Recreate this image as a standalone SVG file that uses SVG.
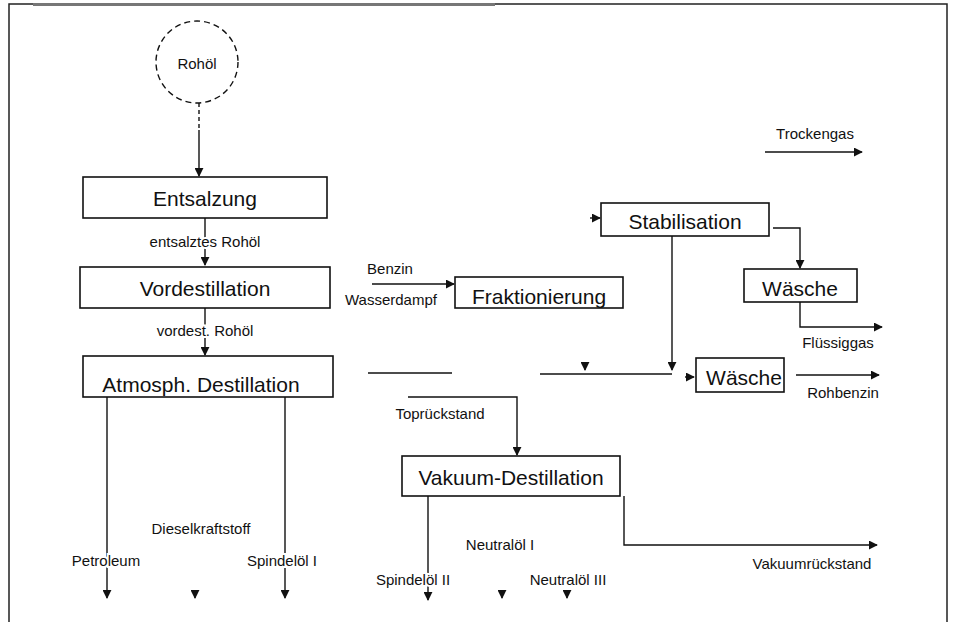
<svg xmlns="http://www.w3.org/2000/svg" width="957" height="622" viewBox="0 0 957 622">
<style>
.box{fill:#fff;stroke:#111;stroke-width:1.6}
.t{font-family:"Liberation Sans",Arial,sans-serif;font-size:21px;fill:#111;text-anchor:middle;dominant-baseline:central}
.l{font-family:"Liberation Sans",Arial,sans-serif;font-size:15px;fill:#111;text-anchor:middle;dominant-baseline:central}
.c{fill:none;stroke:#111;stroke-width:1.4}
.h{paint-order:stroke;stroke:#fff;stroke-width:4}
</style>
<defs>
<marker id="ah" viewBox="0 0 10 10" refX="9" refY="5" markerWidth="9" markerHeight="9" markerUnits="userSpaceOnUse" orient="auto">
<path d="M0,0 L10,5 L0,10 z" fill="#111"/>
</marker>
</defs>
<rect width="957" height="622" fill="#fff"/>
<g id="frame">
<path d="M9,622 V4 H947 V622" fill="none" stroke="#222" stroke-width="1.5"/>
<line x1="33" y1="4.5" x2="495" y2="4.5" stroke="#777" stroke-width="3"/>
</g>
<g id="connectors">
<path class="c" d="M199,103 V130" stroke-dasharray="4,3"/>
<path class="c" d="M199,130 V176" marker-end="url(#ah)"/>
<path class="c" d="M205,218 V265" marker-end="url(#ah)"/>
<path class="c" d="M205,308 V355" marker-end="url(#ah)"/>
<path class="c" d="M317,269 H330"/>
<path class="c" d="M372,284 H454" marker-end="url(#ah)"/>
<path class="c" d="M107,397 V598" marker-end="url(#ah)"/>
<path class="c" d="M195,590 V598" marker-end="url(#ah)"/>
<path class="c" d="M285,397 V598" marker-end="url(#ah)"/>
<path class="c" d="M368,373 H452"/>
<path class="c" d="M540,374 H672"/>
<path class="c" d="M585,362 V370" marker-end="url(#ah)"/>
<path class="c" d="M672,236 V370" marker-end="url(#ah)"/>
<path class="c" d="M685,377 H694" marker-end="url(#ah)"/>
<path class="c" d="M590,218 H600" marker-end="url(#ah)"/>
<path class="c" d="M773,228 H800 V268" marker-end="url(#ah)"/>
<path class="c" d="M800,302 V327 H882" marker-end="url(#ah)"/>
<path class="c" d="M796,375 H879" marker-end="url(#ah)"/>
<path class="c" d="M765,152 H862" marker-end="url(#ah)"/>
<path class="c" d="M408,397 H517 V455" marker-end="url(#ah)"/>
<path class="c" d="M428,496 V600" marker-end="url(#ah)"/>
<path class="c" d="M502,590 V598" marker-end="url(#ah)"/>
<path class="c" d="M567,590 V598" marker-end="url(#ah)"/>
<path class="c" d="M624,496 V545 H877" marker-end="url(#ah)"/>
</g>
<g id="rohoel">
<circle cx="197" cy="62" r="41" fill="#fff" stroke="#111" stroke-width="1.4" stroke-dasharray="6,4"/>
<text class="l" x="197" y="63">Rohöl</text>
</g>
<g id="entsalzung">
<rect class="box" x="83" y="177" width="244" height="41"/>
<text class="t" x="205" y="198">Entsalzung</text>
</g>
<g id="vordestillation">
<rect class="box" x="80" y="267" width="250" height="41"/>
<text class="t" x="205" y="288">Vordestillation</text>
</g>
<g id="atmosph">
<rect class="box" x="83" y="356" width="250" height="41"/>
<text class="t" x="201" y="384">Atmosph. Destillation</text>
</g>
<g id="fraktionierung">
<rect class="box" x="455" y="277" width="168" height="31"/>
<text class="t" x="539" y="296">Fraktionierung</text>
</g>
<g id="stabilisation">
<rect class="box" x="601" y="203" width="168" height="33"/>
<text class="t" x="685" y="221">Stabilisation</text>
</g>
<g id="waesche1">
<rect class="box" x="744" y="269" width="113" height="33"/>
<text class="t" x="800" y="288">Wäsche</text>
</g>
<g id="waesche2">
<rect class="box" x="696" y="358" width="88" height="34"/>
<text class="t" x="744" y="377">Wäsche</text>
</g>
<g id="vakuum">
<rect class="box" x="402" y="456" width="218" height="40"/>
<text class="t" x="511" y="477">Vakuum-Destillation</text>
</g>
<g id="labels">
<text class="l h" x="205" y="241">entsalztes Rohöl</text>
<text class="l h" x="205" y="330">vordest. Rohöl</text>
<text class="l" x="390" y="268">Benzin</text>
<text class="l" x="391" y="299">Wasserdampf</text>
<text class="l" x="815" y="133">Trockengas</text>
<text class="l" x="838" y="342">Flüssiggas</text>
<text class="l" x="843" y="392">Rohbenzin</text>
<text class="l" x="440" y="413">Toprückstand</text>
<text class="l h" x="106" y="560">Petroleum</text>
<text class="l" x="201" y="528">Dieselkraftstoff</text>
<text class="l h" x="282" y="560">Spindelöl I</text>
<text class="l h" x="413" y="579">Spindelöl II</text>
<text class="l" x="500" y="544">Neutralöl I</text>
<text class="l" x="568" y="579">Neutralöl III</text>
<text class="l" x="812" y="563">Vakuumrückstand</text>
</g>
</svg>
